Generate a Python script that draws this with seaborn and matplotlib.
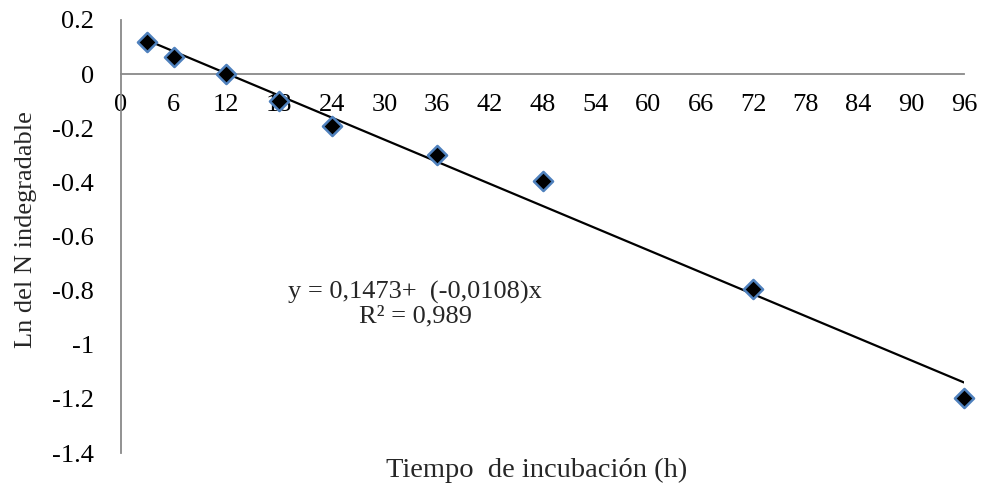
import numpy as np
import pandas as pd
import seaborn as sns
import matplotlib
matplotlib.use("Agg")
import matplotlib.pyplot as plt

# Data
tiempo = [3, 6, 12, 18, 24, 36, 48, 72, 96]
ln_n = [0.12, 0.063, 0.0, -0.10, -0.19, -0.30, -0.395, -0.795, -1.195]
x_ticks = [0, 6, 12, 18, 24, 30, 36, 42, 48, 54, 60, 66, 72, 78, 84, 90, 96]
y_ticks = [0.2, 0, -0.2, -0.4, -0.6, -0.8, -1, -1.2, -1.4]
y_tick_labels = ["0.2", "0", "-0.2", "-0.4", "-0.6", "-0.8", "-1", "-1.2", "-1.4"]
equation_text = "y = 0,1473+  (-0,0108)x\nR² = 0,989"

df = pd.DataFrame({"t": tiempo, "ln": ln_n})

sns.set_style("white")
plt.rcParams["font.family"] = ["Liberation Serif", "DejaVu Serif"]

fig = plt.figure(figsize=(9.87, 4.87), dpi=100)
ax = fig.add_axes([0.1226, 0.0698, 0.8541, 0.8892])

sns.regplot(data=df, x="t", y="ln", ax=ax, ci=None, truncate=True,
            scatter=False, line_kws={"color": "black", "lw": 1.6})
sns.scatterplot(data=df, x="t", y="ln", ax=ax, marker="D", s=95,
                color="black", edgecolor="#4f81bd", linewidth=1.8,
                clip_on=False, zorder=5)

for s in ["top", "right"]:
    ax.spines[s].set_visible(False)
ax.spines["bottom"].set_position(("data", 0))
ax.spines["bottom"].set_color("#898989")
ax.spines["left"].set_color("#898989")
ax.spines["bottom"].set_linewidth(1.3)
ax.spines["left"].set_linewidth(1.3)

ax.set_xlim(0, 96)
ax.set_ylim(-1.4, 0.2)
ax.set_xticks(x_ticks)
ax.set_xticklabels([str(v) for v in x_ticks])
ax.set_yticks(y_ticks)
ax.set_yticklabels(y_tick_labels)
ax.tick_params(axis="both", length=0, colors="black", labelsize=19)
ax.tick_params(axis="x", pad=14)
ax.tick_params(axis="y", pad=19.5)

ax.set_xlabel("")
ax.set_ylabel("")
fig.text(0.544, 0.035, "Tiempo  de incubación (h)", fontsize=20.5,
         ha="center", va="center")
fig.text(0.026, 0.528, "Ln del N indegradable", fontsize=19,
         ha="center", va="center", rotation=90)

ax.text(33.5, -0.85, equation_text, fontsize=19, ha="center", va="center",
        multialignment="center", linespacing=1.05)

fig.savefig("out.png", dpi=100)
